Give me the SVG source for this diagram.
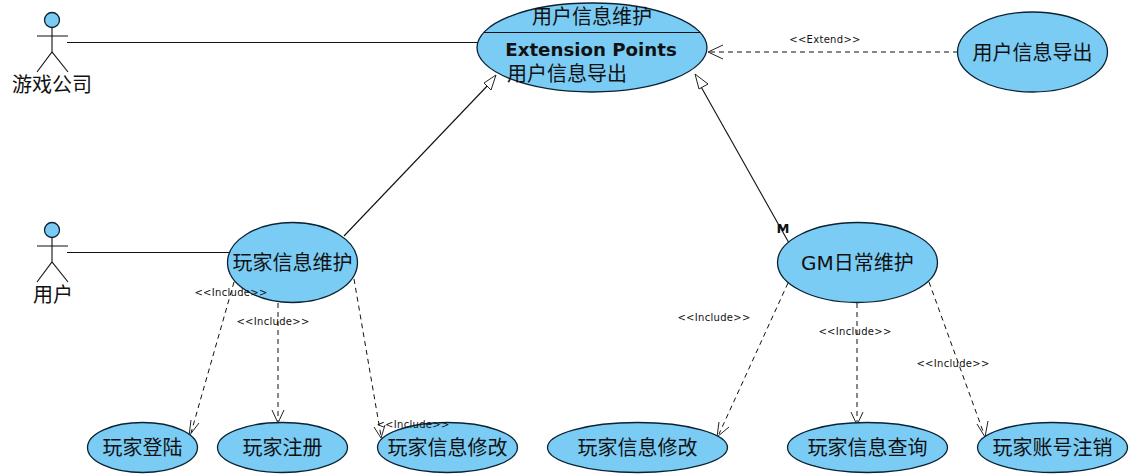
<svg xmlns="http://www.w3.org/2000/svg" width="1131" height="476" viewBox="0 0 1131 476">
<style>
text{font-family:"DejaVu Sans","Noto Sans CJK SC",sans-serif;fill:#111;text-anchor:middle}
.uc{fill:#7accf5;stroke:#0b2233;stroke-width:1.3}
.t{font-size:20px}
.s{font-size:10px;letter-spacing:.3px}
.l{fill:none;stroke:#111;stroke-width:1.1}
.d{fill:none;stroke:#111;stroke-width:1;stroke-dasharray:5 4}
.h{fill:none;stroke:#222;stroke-width:1}
.g{fill:#fff;stroke:#222;stroke-width:1}
.a{fill:none;stroke:#111;stroke-width:1.1}
</style>
<rect width="1131" height="476" fill="#fff"/>
<g id="connectors">
<path class="l" d="M67 42.500H478"/>
<path class="l" d="M67 252.500H229"/>
<path class="l" d="M344 236L490 83"/>
<polygon class="g" points="496,75 491,90 484,83"/>
<path class="l" d="M789 243L700 85"/>
<polygon class="g" points="695,74 708,84 699,89"/>
<path class="d" d="M958 52H710"/>
<path class="h" d="M723 45L708 52L723 59"/>
<path class="d" d="M234 282L191 433"/>
<path class="h" d="M191 420L189 436L199 423"/>
<path class="d" d="M278 303V421"/>
<path class="h" d="M272 410L278 423L284 410"/>
<path class="d" d="M354 279L381 436"/>
<path class="h" d="M374 427L381 438L385 425"/>
<path class="d" d="M788 283L719 434"/>
<path class="h" d="M719 422L717 437L729 427"/>
<path class="d" d="M857 303V423"/>
<path class="h" d="M851 412L857 425L863 412"/>
<path class="d" d="M929 282L984 434"/>
<path class="h" d="M977 424L985 437L988 421"/>
</g>
<g id="actor-company">
<circle class="uc" cx="52" cy="20" r="7.500"/>
<path class="a" d="M52 28V52M37 36H68M37 72L52 52L68 72"/>
<text class="t" x="52" y="92">游戏公司</text>
</g>
<g id="actor-user">
<circle class="uc" cx="52" cy="230" r="7.500"/>
<path class="a" d="M52 238V262M37 246H68M37 282L52 262L68 282"/>
<text class="t" x="53" y="302">用户</text>
</g>
<g id="uc-user-info">
<ellipse class="uc" cx="592" cy="47.500" rx="115" ry="44.500"/>
<path class="a" d="M484 32.500H700"/>
<text class="t" x="592" y="23.500">用户信息维护</text>
<text x="591" y="55.500" style="font-size:18.200px;font-weight:bold">Extension Points</text>
<text class="t" x="567" y="80.500">用户信息导出</text>
</g>
<g id="uc-export">
<ellipse class="uc" cx="1032.500" cy="52" rx="75" ry="40"/>
<text class="t" x="1032.500" y="59.500">用户信息导出</text>
</g>
<g id="uc-player">
<ellipse class="uc" cx="292.500" cy="262.500" rx="65" ry="40"/>
<text class="t" x="292.500" y="269.500">玩家信息维护</text>
</g>
<g id="uc-gm">
<ellipse class="uc" cx="857.500" cy="262.500" rx="80" ry="40"/>
<text class="t" x="857.500" y="269.500">GM日常维护</text>
</g>
<g id="uc-login">
<ellipse class="uc" cx="142.500" cy="447.500" rx="55" ry="25"/>
<text class="t" x="142.500" y="454.500">玩家登陆</text>
</g>
<g id="uc-register">
<ellipse class="uc" cx="282.500" cy="447.500" rx="65" ry="25"/>
<text class="t" x="282.500" y="454.500">玩家注册</text>
</g>
<g id="uc-modify1">
<ellipse class="uc" cx="447.500" cy="447.500" rx="70" ry="25"/>
<text class="t" x="447.500" y="454.500">玩家信息修改</text>
</g>
<g id="uc-modify2">
<ellipse class="uc" cx="637.500" cy="447.500" rx="90" ry="25"/>
<text class="t" x="637.500" y="454.500">玩家信息修改</text>
</g>
<g id="uc-query">
<ellipse class="uc" cx="867.500" cy="447.500" rx="80" ry="25"/>
<text class="t" x="867.500" y="454.500">玩家信息查询</text>
</g>
<g id="uc-cancel">
<ellipse class="uc" cx="1052.500" cy="447.500" rx="75" ry="25"/>
<text class="t" x="1052.500" y="454.500">玩家账号注销</text>
</g>
<g id="labels">
<text class="s" x="825" y="43">&lt;&lt;Extend&gt;&gt;</text>
<text class="s" x="231" y="296">&lt;&lt;Include&gt;&gt;</text>
<text class="s" x="273" y="325">&lt;&lt;Include&gt;&gt;</text>
<text class="s" x="413" y="428">&lt;&lt;Include&gt;&gt;</text>
<text class="s" x="714" y="321">&lt;&lt;Include&gt;&gt;</text>
<text class="s" x="855" y="335">&lt;&lt;Include&gt;&gt;</text>
<text class="s" x="953" y="367">&lt;&lt;Include&gt;&gt;</text>
<text x="783" y="233" style="font-size:13px;font-weight:bold">M</text>
</g>
</svg>
